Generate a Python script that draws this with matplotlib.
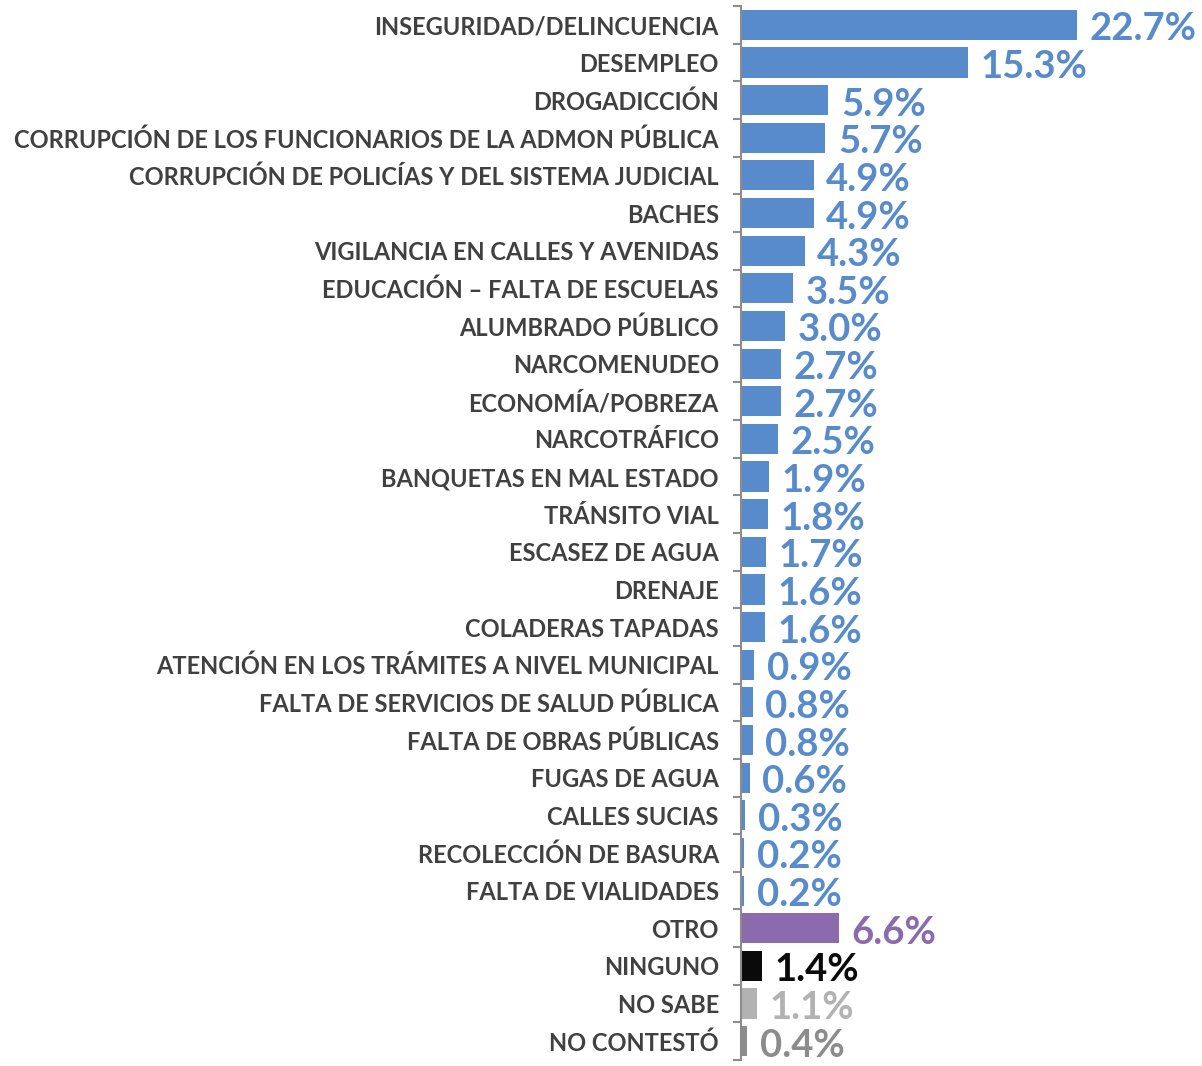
import numpy as np
import matplotlib
matplotlib.use("Agg")
import matplotlib.pyplot as plt

categories = [
    "INSEGURIDAD/DELINCUENCIA", "DESEMPLEO", "DROGADICCIÓN",
    "CORRUPCIÓN DE LOS FUNCIONARIOS DE LA ADMON PÚBLICA",
    "CORRUPCIÓN DE POLICÍAS Y DEL SISTEMA JUDICIAL", "BACHES",
    "VIGILANCIA EN CALLES Y AVENIDAS", "EDUCACIÓN – FALTA DE ESCUELAS",
    "ALUMBRADO PÚBLICO", "NARCOMENUDEO", "ECONOMÍA/POBREZA", "NARCOTRÁFICO",
    "BANQUETAS EN MAL ESTADO", "TRÁNSITO VIAL", "ESCASEZ DE AGUA", "DRENAJE",
    "COLADERAS TAPADAS", "ATENCIÓN EN LOS TRÁMITES A NIVEL MUNICIPAL",
    "FALTA DE SERVICIOS DE SALUD PÚBLICA", "FALTA DE OBRAS PÚBLICAS",
    "FUGAS DE AGUA", "CALLES SUCIAS", "RECOLECCIÓN DE BASURA",
    "FALTA DE VIALIDADES", "OTRO", "NINGUNO", "NO SABE", "NO CONTESTÓ",
]
values = [22.7, 15.3, 5.9, 5.7, 4.9, 4.9, 4.3, 3.5, 3.0, 2.7, 2.7, 2.5, 1.9,
          1.8, 1.7, 1.6, 1.6, 0.9, 0.8, 0.8, 0.6, 0.3, 0.2, 0.2, 6.6, 1.4,
          1.1, 0.4]

blue = "#588BCB"
colors = [blue] * 24 + ["#8B6BAE", "#0A0A0A", "#B2B2B2", "#8C8C8C"]

plt.rcParams['font.family'] = ['Lato', 'DejaVu Sans']

fig = plt.figure(figsize=(12.02, 10.66), dpi=100)
ax = fig.add_axes([741 / 1202, 6 / 1066, (1200 - 741) / 1202, 1054 / 1066])

y = np.arange(len(categories))
ax.barh(y, values, height=0.8, color=colors)
ax.set_ylim(len(categories) - 0.5, -0.5)
ax.set_xlim(0, 31.0)

for yi, v, c in zip(y, values, colors):
    ax.text(v + 0.85, yi + 0.12, f"{v:.1f}%", color=c, fontsize=27.5,
            fontweight="bold", va="center", ha="left")

ax.set_yticks(y)
ax.set_yticklabels(categories, fontsize=17, fontweight="bold", color="#404040")
ax.set_yticks(np.arange(len(categories) + 1) - 0.5, minor=True)
ax.tick_params(axis="y", which="major", length=0, pad=16)
ax.tick_params(axis="y", which="minor", length=6, width=1.5, color="#8C8C8C")
ax.set_xticks([])
for s in ["top", "right", "bottom"]:
    ax.spines[s].set_visible(False)
ax.spines["left"].set_color("#8C8C8C")
ax.spines["left"].set_linewidth(1.5)

fig.savefig("out.png", dpi=100)
